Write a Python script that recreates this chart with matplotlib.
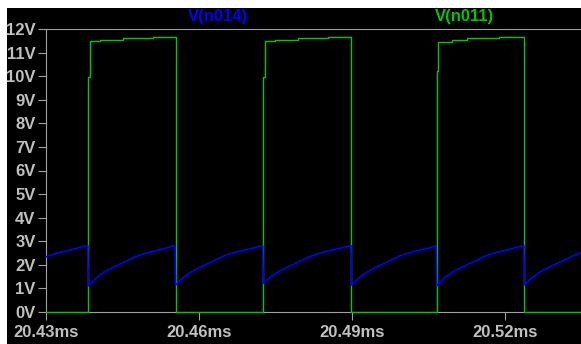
"""
Transient waveform view: gate drive V(n011) and sense node V(n014),
drawn in the black-background style of a SPICE waveform viewer.
"""

import matplotlib

matplotlib.use("Agg")
from matplotlib import pyplot as plt
from matplotlib.patches import Rectangle

# V(n011): square drive, time in ms, volts (held until next point)
green_t = [
    20.4300, 20.4383, 20.4387, 20.4406, 20.4451, 20.4510,
    20.4554, 20.4726, 20.4730, 20.4749, 20.4794, 20.4853,
    20.4899, 20.5066, 20.5069, 20.5097, 20.5125, 20.5189,
    20.5238, 20.5349,
]
green_v = [
    0.0, 9.98, 11.48, 11.55, 11.60, 11.65,
    0.0, 9.98, 11.48, 11.55, 11.60, 11.65,
    0.0, 10.2, 11.46, 11.55, 11.60, 11.65,
    0.0, 0.0,
]

# V(n014): sense node, time in ms, volts
blue_t = [
    20.4300, 20.4320, 20.4340, 20.4360, 20.4373, 20.4382,
    20.4383, 20.4398, 20.4417, 20.4437, 20.4457, 20.4476, 20.4496, 20.4515, 20.4535, 20.4548, 20.4553,
    20.4554, 20.4569, 20.4588, 20.4608, 20.4628, 20.4647, 20.4667, 20.4686, 20.4706, 20.4719, 20.4725,
    20.4726, 20.4741, 20.4760, 20.4780, 20.4800, 20.4819, 20.4839, 20.4858, 20.4878, 20.4891, 20.4898,
    20.4899, 20.4914, 20.4933, 20.4953, 20.4973, 20.4992, 20.5012, 20.5031, 20.5051, 20.5060, 20.5065,
    20.5066, 20.5081, 20.5100, 20.5120, 20.5140, 20.5159, 20.5179, 20.5198, 20.5218, 20.5231, 20.5237,
    20.5238, 20.5253, 20.5272, 20.5292, 20.5312, 20.5331, 20.5349,
]
blue_v = [
    2.34, 2.49, 2.59, 2.70, 2.79, 2.81,
    1.11, 1.44, 1.73, 1.95, 2.15, 2.35, 2.50, 2.60, 2.71, 2.79, 2.81,
    1.14, 1.46, 1.74, 1.96, 2.16, 2.36, 2.51, 2.61, 2.71, 2.79, 2.80,
    1.22, 1.50, 1.76, 1.97, 2.17, 2.36, 2.51, 2.61, 2.71, 2.78, 2.81,
    1.14, 1.46, 1.74, 1.96, 2.16, 2.36, 2.51, 2.61, 2.71, 2.78, 2.81,
    1.11, 1.44, 1.73, 1.95, 2.15, 2.35, 2.50, 2.60, 2.71, 2.79, 2.81,
    1.15, 1.46, 1.74, 1.96, 2.16, 2.36, 2.52,
]

y_ticks = list(range(0, 13))
y_labels = [f"{v}V" for v in y_ticks]
x_ticks = [20.43, 20.46, 20.49, 20.52]
x_labels = ["20.43ms", "20.46ms", "20.49ms", "20.52ms"]

W, H = 581, 344
GREEN = "#00c800"
BLUE = "#0000ff"
GREY = "#a0a0a0"
TEXT = "#c0c0c0"
FONT = {"family": "Liberation Sans", "weight": "bold", "size": 12}

fig = plt.figure(figsize=(W / 100, H / 100), dpi=100, facecolor="white")
fig.patches.append(
    Rectangle((7 / W, 0), 1, (H - 8) / H, transform=fig.transFigure,
              facecolor="black", edgecolor="none", zorder=-10)
)

ax = fig.add_axes([46 / W, (H - 312) / H, (W - 46) / W, (312 - 29) / H])
ax.set_facecolor("black")

ax.plot(green_t, green_v, color=GREEN, lw=1.0, drawstyle="steps-post",
        clip_on=False, zorder=3)
ax.plot(blue_t, blue_v, color=BLUE, lw=1.2, clip_on=False, zorder=4)

ax.set_xlim(20.43, 20.5349)
ax.set_ylim(0, 12)

ax.set_yticks(y_ticks)
ax.set_yticklabels(y_labels, fontdict=FONT, color=TEXT)
ax.set_xticks(x_ticks)
ax.set_xticklabels(x_labels, fontdict=FONT, color=TEXT)
ax.tick_params(axis="y", length=6, width=0.8, color=GREY, pad=1.5)
ax.tick_params(axis="x", length=6, width=0.8, color=GREY, pad=3.5)

for side in ("left", "top", "bottom"):
    ax.spines[side].set_color(GREY)
    ax.spines[side].set_linewidth(0.8)
ax.spines["right"].set_visible(False)

fig.text(218 / W, 1 - 16.5 / H, "V(n014)", color=BLUE, ha="center",
         va="center", **FONT)
fig.text(465 / W, 1 - 16.5 / H, "V(n011)", color=GREEN, ha="center",
         va="center", **FONT)

fig.savefig("out.png", dpi=100, facecolor=fig.get_facecolor())
plt.close(fig)
